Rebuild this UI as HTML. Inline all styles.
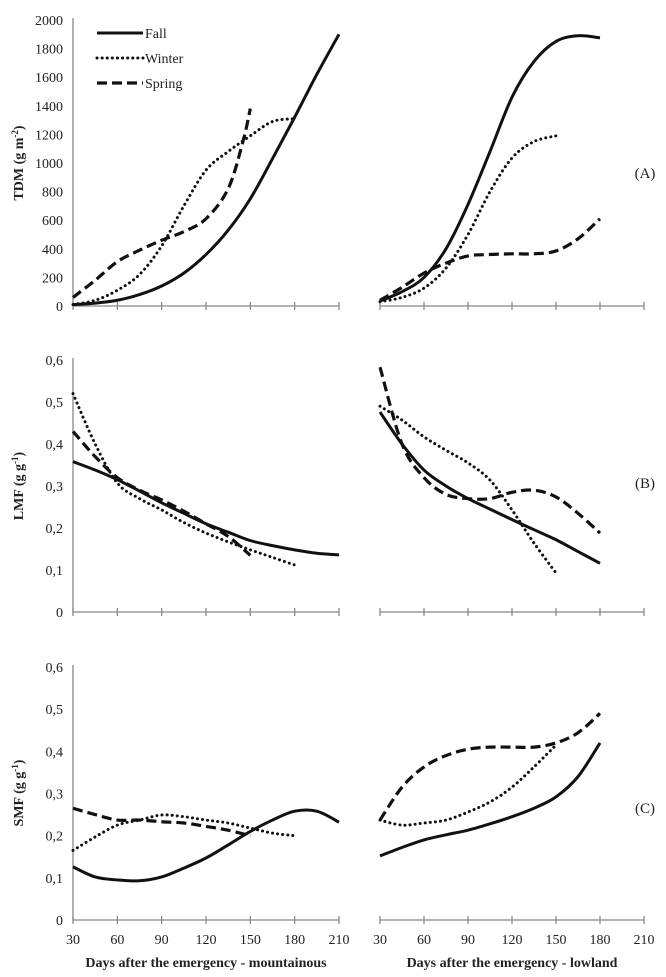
<!DOCTYPE html>
<html><head><meta charset="utf-8"><style>
body{margin:0;background:#fff}
svg{display:block}
text{font-family:"Liberation Serif",serif;fill:#222}
</style></head><body>
<svg id="c" width="666" height="977"></svg>
<script>
const days=[30,45,60,75,90,105,120,135,150,165,180,195,210];
const tdmFallM=[10,20,40,80,140,230,360,530,750,1030,1320,1620,1900];
const tdmWinterM=[10,40,110,220,420,700,950,1080,1190,1290,1310];
const tdmSpringDays=[30,45,60,75,90,105,120,135,145,150];
const tdmSpringM=[60,180,310,390,460,520,610,820,1150,1380];
const tdmFallL=[35,100,200,400,710,1080,1460,1710,1850,1890,1875];
const tdmWinterL=[30,60,125,265,500,800,1035,1150,1190];
const tdmSpringL=[40,130,230,300,350,360,365,365,385,470,610];
const lmfFallM=[0.358,0.338,0.315,0.288,0.26,0.235,0.21,0.19,0.17,0.158,0.148,0.14,0.136];
const lmfWinterM=[0.52,0.40,0.307,0.27,0.243,0.213,0.188,0.167,0.148,0.13,0.112];
const lmfSpringM=[0.43,0.37,0.32,0.29,0.267,0.24,0.21,0.18,0.135];
const lmfFallL=[0.476,0.40,0.338,0.30,0.27,0.245,0.22,0.196,0.172,0.144,0.116];
const lmfWinterL=[0.49,0.457,0.417,0.385,0.355,0.314,0.243,0.164,0.093];
const lmfSpringL=[0.583,0.40,0.32,0.28,0.27,0.27,0.285,0.29,0.274,0.235,0.188];
const smfFallM=[0.126,0.102,0.095,0.093,0.102,0.123,0.147,0.178,0.21,0.237,0.258,0.258,0.232];
const smfWinterM=[0.165,0.197,0.225,0.237,0.249,0.245,0.237,0.23,0.218,0.206,0.2];
const smfSpringM=[0.265,0.25,0.237,0.237,0.233,0.23,0.222,0.213,0.2];
const smfFallL=[0.152,0.172,0.19,0.202,0.213,0.228,0.245,0.265,0.292,0.34,0.42];
const smfWinterL=[0.237,0.225,0.23,0.237,0.256,0.28,0.315,0.363,0.415];
const smfSpringL=[0.237,0.315,0.363,0.39,0.405,0.41,0.41,0.41,0.42,0.444,0.49];
const xTicks=[30,60,90,120,150,180,210];
const tdmTicks=[0,200,400,600,800,1000,1200,1400,1600,1800,2000];
const fracTicks=[0,0.1,0.2,0.3,0.4,0.5,0.6];

const NS='http://www.w3.org/2000/svg';
const svg=document.getElementById('c');
function mk(tag,attrs,parent){const e=document.createElementNS(NS,tag);for(const k in attrs)e.setAttribute(k,attrs[k]);(parent||svg).appendChild(e);return e;}
const cols=[{x0:73,x1:339},{x0:380,x1:644}];
const rows=[{y0:306,y1:20,max:2000},{y0:612,y1:360,max:0.6},{y0:920,y1:667,max:0.6}];
function xs(c,d){return cols[c].x0+(d-30)/180*(cols[c].x1-cols[c].x0);}
function ys(r,v){return rows[r].y0-(v/rows[r].max)*(rows[r].y0-rows[r].y1);}
function pathD(pts){let d='M'+pts[0][0]+','+pts[0][1];for(let i=0;i<pts.length-1;i++){const p0=pts[Math.max(i-1,0)],p1=pts[i],p2=pts[i+1],p3=pts[Math.min(i+2,pts.length-1)];
const c1=[p1[0]+(p2[0]-p0[0])/6,p1[1]+(p2[1]-p0[1])/6],c2=[p2[0]-(p3[0]-p1[0])/6,p2[1]-(p3[1]-p1[1])/6];
d+=' C'+c1.join(',')+' '+c2.join(',')+' '+p2.join(',');}return d;}
const styles={fall:{'stroke-width':3},winter:{'stroke-width':3,'stroke-dasharray':'0.1 5','stroke-linecap':'round'},spring:{'stroke-width':3.2,'stroke-dasharray':'10 5'}};
function series(c,r,dd,vals,kind,name){const pts=vals.map((v,i)=>[xs(c,dd[i]),ys(r,v)]);
const a=Object.assign({d:pathD(pts),fill:'none',stroke:'#111'},styles[kind]);const p=mk('path',a);

}
// axes
for(let r=0;r<3;r++){for(let c=0;c<2;c++){const g=mk('g',{});


mk('line',{x1:cols[c].x0,x2:cols[c].x1,y1:rows[r].y0,y2:rows[r].y0,stroke:'#888','stroke-width':1.3},g);
xTicks.forEach(t=>{mk('line',{x1:xs(c,t),x2:xs(c,t),y1:rows[r].y0-4,y2:rows[r].y0+4,stroke:'#888','stroke-width':1.3},g);
if(r==2){const tx=mk('text',{x:xs(c,t),y:944,'text-anchor':'middle','font-size':14},g);tx.textContent=t;}});}
const ya=mk('g',{});


mk('line',{x1:73,x2:73,y1:rows[r].y1-2,y2:rows[r].y0,stroke:'#888','stroke-width':1.3},ya);
const ticks=r==0?tdmTicks:fracTicks;
ticks.forEach(t=>{const tx=mk('text',{x:63,y:ys(r,t)+5,'text-anchor':'end','font-size':14},ya);tx.textContent=r==0?t:String(t).replace('.',',');});}
// titles
function ttl(y,txt,name){const t=mk('text',{x:0,y:0,transform:'translate(23,'+y+') rotate(-90)','text-anchor':'middle','font-size':14,'font-weight':'bold'});t.innerHTML=txt;
}
ttl(163,'TDM (g m<tspan dy="-5" font-size="9">-2</tspan><tspan dy="5">)</tspan>','y-title-tdm');
ttl(486,'LMF (g g<tspan dy="-5" font-size="9">-1</tspan><tspan dy="5">)</tspan>','y-title-lmf');
ttl(793,'SMF (g g<tspan dy="-5" font-size="9">-1</tspan><tspan dy="5">)</tspan>','y-title-smf');
[['(A)',178],['(B)',488],['(C)',813]].forEach(([s,y])=>{const t=mk('text',{x:645,y:y,'text-anchor':'middle','font-size':15});t.textContent=s;
});
[['Days after the emergency - mountainous',206],['Days after the emergency - lowland',512]].forEach(([s,x],i)=>{const t=mk('text',{x:x,y:967,'text-anchor':'middle','font-size':14,'font-weight':'bold'});t.textContent=s;
});
// series
const dW=days.slice(0,11),dS=days.slice(0,9);
series(0,0,days,tdmFallM,'fall','tdm-fall-mountainous');
series(0,0,dW,tdmWinterM,'winter','tdm-winter-mountainous');
series(0,0,tdmSpringDays,tdmSpringM,'spring','tdm-spring-mountainous');
series(1,0,dW,tdmFallL,'fall','tdm-fall-lowland');
series(1,0,dS,tdmWinterL,'winter','tdm-winter-lowland');
series(1,0,dW,tdmSpringL,'spring','tdm-spring-lowland');
series(0,1,days,lmfFallM,'fall','lmf-fall-mountainous');
series(0,1,dW,lmfWinterM,'winter','lmf-winter-mountainous');
series(0,1,dS,lmfSpringM,'spring','lmf-spring-mountainous');
series(1,1,dW,lmfFallL,'fall','lmf-fall-lowland');
series(1,1,dS,lmfWinterL,'winter','lmf-winter-lowland');
series(1,1,dW,lmfSpringL,'spring','lmf-spring-lowland');
series(0,2,days,smfFallM,'fall','smf-fall-mountainous');
series(0,2,dW,smfWinterM,'winter','smf-winter-mountainous');
series(0,2,dS,smfSpringM,'spring','smf-spring-mountainous');
series(1,2,dW,smfFallL,'fall','smf-fall-lowland');
series(1,2,dS,smfWinterL,'winter','smf-winter-lowland');
series(1,2,dW,smfSpringL,'spring','smf-spring-lowland');
// legend
const lg=mk('g',{});


[['Fall','fall',33],['Winter','winter',58],['Spring','spring',83]].forEach(([s,k,y])=>{
mk('line',Object.assign({x1:97,x2:143,y1:y,y2:y,stroke:'#111'},styles[k]),lg);
const t=mk('text',{x:145,y:y+5,'font-size':14},lg);t.textContent=s;});
</script>
</body></html>
